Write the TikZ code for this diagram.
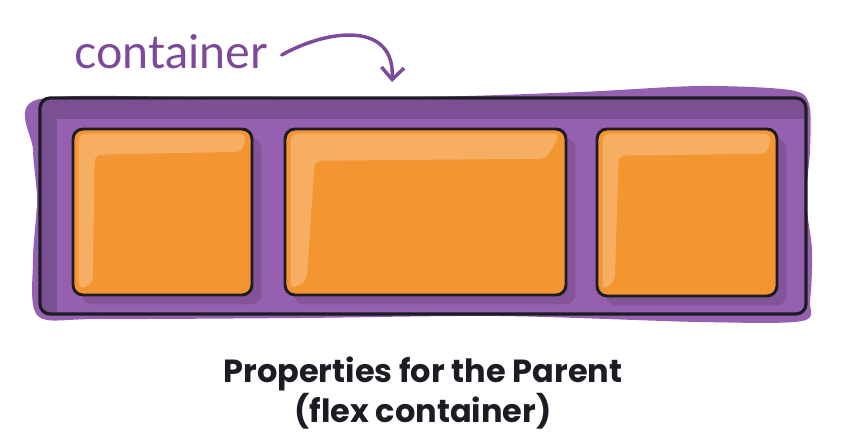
\documentclass[tikz,border=0pt]{standalone}
\usepackage{fontspec}
\setmainfont{Poppins}
\newfontfamily\labelfont{Lato}
\usetikzlibrary{arrows.meta,calc,shadows}
\definecolor{purpleL}{HTML}{9660B0}
\definecolor{purpleD}{HTML}{7B4F93}
\definecolor{shadowP}{HTML}{845499}
\definecolor{orangeM}{HTML}{F39530}
\definecolor{orangeH}{HTML}{F6AE63}
\definecolor{ink}{HTML}{1C1C24}
\definecolor{labelP}{HTML}{7D4A9B}
\tikzset{
  flexitem/.style={fill=orangeM, rounded corners=7.5pt, inner sep=0pt,
    drop shadow={shadow xshift=7pt, shadow yshift=-7pt, fill=shadowP, opacity=1}},
  itemborder/.style={draw=ink, line width=2.2pt, rounded corners=7.5pt, inner sep=0pt},
  highlight/.style={fill=orangeH, rounded corners=5pt},
}
\begin{document}
\begin{tikzpicture}[x=0.75pt,y=-0.75pt]
\useasboundingbox (0,0) rectangle (846,436);

% purple wobbly background
\fill[purpleL] plot[smooth cycle, tension=0.5] coordinates {
  (36,100) (200,97) (420,97) (580,92) (700,86) (790,90) (809,104)
  (810,150) (806,200) (812,250) (810,300) (802,321)
  (700,322) (500,316) (300,318) (100,319) (38,316)
  (33,260) (37,200) (33,150)};
% darker band at top and left
\fill[purpleD] (42,100) rectangle (804,119);
\fill[purpleD] (42,100) rectangle (57,312);

% container border
\node[itemborder, line width=2.4pt, minimum width=574.5pt, minimum height=162pt] (container) at (423,206) {};

% items
\node[flexitem, minimum width=134.25pt, minimum height=124.5pt] (item1) at (162.5,212) {};
\node[flexitem, minimum width=210.75pt, minimum height=124.5pt] (item2) at (425.5,212) {};
\node[flexitem, minimum width=135pt, minimum height=125.25pt] (item3) at (687,212.5) {};

% highlights
\fill[highlight] ($(item1.north west)+(6,5)$) -- ($(item1.north east)+(-6,5)$) -- ($(item1.north east)+(-10,23)$)
  -- ($(item1.north west)+(22,26)$) -- ($(item1.south west)+(20,-12)$) -- ($(item1.south west)+(6,-6)$) -- cycle;
\fill[highlight] ($(item2.north west)+(6,5)$) -- ($(item2.north east)+(-6,5)$) -- ($(item2.north east)+(-20,30)$)
  -- ($(item2.north west)+(30,32)$) -- ($(item2.south west)+(22,-14)$) -- ($(item2.south west)+(6,-6)$) -- cycle;
\fill[highlight] ($(item3.north west)+(6,5)$) -- ($(item3.north east)+(-6,5)$) -- ($(item3.north east)+(-10,25)$)
  -- ($(item3.north west)+(22,27)$) -- ($(item3.south west)+(18,-14)$) -- ($(item3.south west)+(6,-6)$) -- cycle;

% item borders
\node[itemborder, minimum width=134.25pt, minimum height=124.5pt] (b1) at (item1) {};
\node[itemborder, minimum width=210.75pt, minimum height=124.5pt] (b2) at (item2) {};
\node[itemborder, minimum width=135pt, minimum height=125.25pt] (b3) at (item3) {};

% label and arrow
\node[text=labelP, font=\labelfont\fontsize{35}{40}\selectfont, inner sep=0pt] (label) at (171,52) {container};
\coordinate (tip) at (392,82);
\draw[labelP, line width=2.6pt, line cap=round, -{Straight Barb[length=9pt,width=17pt,line width=2.6pt]}]
  ($(label.east)+(14,3)$) .. controls (330,28) and (395,22) .. (tip);

% title
\node[text=ink, font=\bfseries\fontsize{24}{25.5}\selectfont, align=center, inner sep=0pt] (title) at (423,393)
  {Properties for the Parent\\(flex container)};
\end{tikzpicture}
\end{document}
